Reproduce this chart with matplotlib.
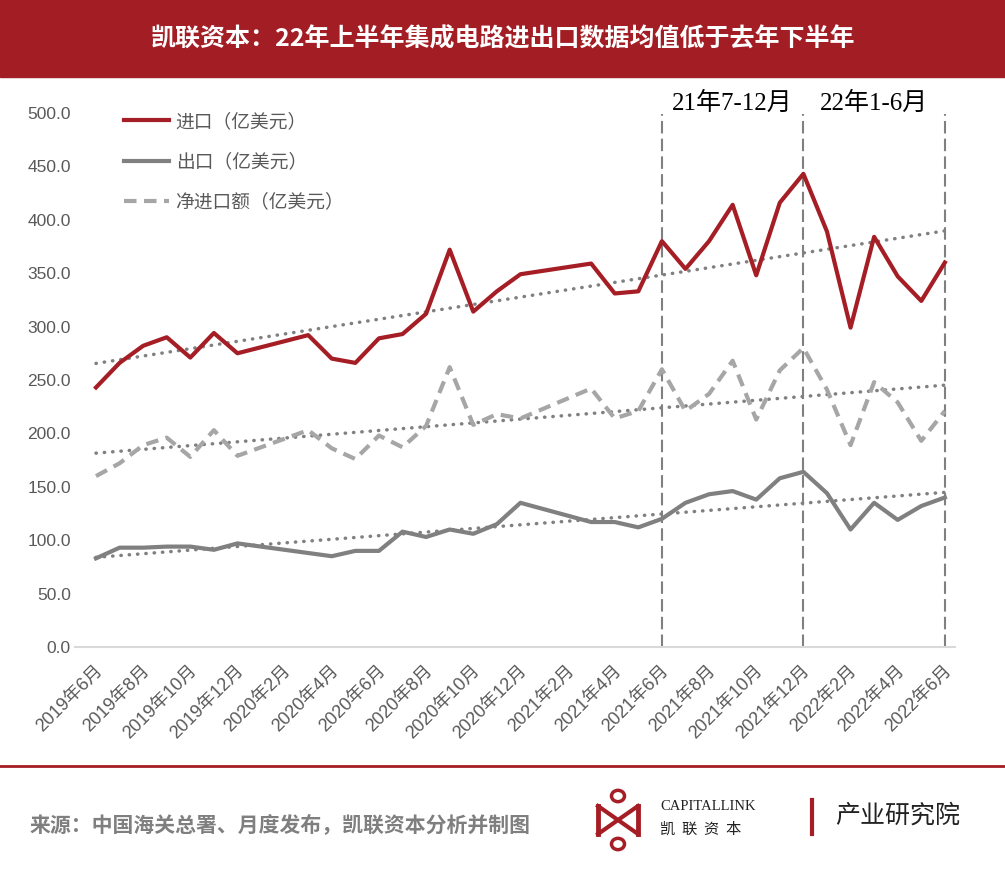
import numpy as np
import pandas as pd
import matplotlib
matplotlib.use("Agg")
import matplotlib.pyplot as plt
import matplotlib.transforms as mtrans
from matplotlib.patches import Rectangle, Circle
from matplotlib.lines import Line2D

plt.rcParams['font.family'] = ['Liberation Sans', 'Noto Sans CJK SC', 'DejaVu Sans']

# 月度数据（缺1-2月合并数据的月份不列出）
months = ['2019-06', '2019-07', '2019-08', '2019-09', '2019-10', '2019-11', '2019-12',
          '2020-03', '2020-04', '2020-05', '2020-06', '2020-07', '2020-08', '2020-09',
          '2020-10', '2020-11', '2020-12',
          '2021-03', '2021-04', '2021-05', '2021-06', '2021-07', '2021-08', '2021-09',
          '2021-10', '2021-11', '2021-12',
          '2022-01', '2022-02', '2022-03', '2022-04', '2022-05', '2022-06']
imports = [243, 266, 282, 290, 271, 294, 275,
           292, 270, 266, 289, 293, 312, 372, 314, 333, 349,
           359, 331, 333, 380, 354, 380, 414, 348, 416, 443,
           389, 299, 384, 347, 324, 360]
exports = [83, 93, 93, 94, 94, 91, 97,
           88, 85, 90, 90, 108, 103, 110, 106, 115, 135,
           117, 117, 112, 120, 135, 143, 146, 138, 158, 164,
           144, 110, 135, 119, 132, 140]
net_imports = [160, 172, 189, 196, 178, 203, 179,
               203, 186, 176, 198, 187, 207, 262, 208, 218, 214,
               242, 214, 221, 260, 221, 237, 268, 213, 259, 280,
               241, 189, 248, 229, 193, 221]

tick_labels = ['2019年6月', '2019年8月', '2019年10月', '2019年12月', '2020年2月', '2020年4月',
               '2020年6月', '2020年8月', '2020年10月', '2020年12月', '2021年2月', '2021年4月',
               '2021年6月', '2021年8月', '2021年10月', '2021年12月', '2022年2月', '2022年4月',
               '2022年6月']
period_bounds = ['2021-06', '2021-12', '2022-06']
period_labels = ['21年7-12月', '22年1-6月']

RED = '#A61E25'
GREY = '#808080'
LGREY = '#A6A6A6'
TXT = '#595959'

start = pd.Period(months[0], 'M')
x = np.array([(pd.Period(m, 'M') - start).n for m in months])
bounds = [(pd.Period(m, 'M') - start).n for m in period_bounds]

fig = plt.figure(figsize=(10.05, 8.75), dpi=100)
W, H = 1005, 875

# 顶部标题栏
fig.patches.append(Rectangle((0, 1 - 77 / H), 1, 77 / H, transform=fig.transFigure,
                             color='#A31D24', zorder=0))
fig.text(0.5, 1 - 39 / H, '凯联资本：22年上半年集成电路进出口数据均值低于去年下半年',
         color='white', fontsize=18, weight='bold', ha='center', va='center',
         family=['Noto Sans CJK SC'])

ax = fig.add_axes([75 / W, (H - 647) / H, 880 / W, 555.4 / H])
ax.plot(x, imports, color=RED, lw=3, label='进口（亿美元）', zorder=4)
ax.plot(x, exports, color=GREY, lw=3, label='出口（亿美元）', zorder=4)
ax.plot(x, net_imports, color=LGREY, lw=3, ls=(0, (3, 1.8)), label='净进口额（亿美元）', zorder=4)

# 线性趋势线
for s in [imports, exports, net_imports]:
    k, b = np.polyfit(x, s, 1)
    ax.plot([x[0], x[-1]], [k * x[0] + b, k * x[-1] + b], color=GREY, lw=2.5,
            ls=(0, (0.1, 2.3)), dash_capstyle='round', zorder=3)

ax.vlines(bounds, 0, 499, colors=GREY, lw=1.5, linestyles=(0, (6, 2.5)), zorder=2)
for i, lab in enumerate(period_labels):
    ax.text((bounds[i] + bounds[i + 1]) / 2, 0.979, lab, transform=ax.get_xaxis_transform(),
            ha='center', va='center', fontsize=18, color='black',
            family=['Liberation Serif', 'Noto Sans CJK SC'])

ax.set_xlim(-0.89, 36.43)
ax.set_ylim(0, 520)
ax.set_yticks(np.arange(0, 501, 50))
ax.set_yticklabels([f'{v:.1f}' for v in np.arange(0, 501, 50)])
ax.set_xticks(np.arange(0, 37, 2))
ax.set_xticklabels(tick_labels, rotation=45, ha='right', va='center', rotation_mode='anchor')
ax.tick_params(axis='y', length=0, labelsize=12.5, labelcolor=TXT, pad=3)
ax.tick_params(axis='x', length=0, labelsize=13, labelcolor=TXT, pad=15)
shift = mtrans.ScaledTranslation(4 / 100, 0, fig.dpi_scale_trans)
for lab in ax.get_xticklabels():
    lab.set_transform(lab.get_transform() + shift)
for sp in ['top', 'right', 'left']:
    ax.spines[sp].set_visible(False)
ax.spines['bottom'].set_color('#D9D9D9')
ax.spines['bottom'].set_linewidth(1.5)

leg = ax.legend(loc='upper left', bbox_to_anchor=(124 / W, 1 - 113 / H),
                bbox_transform=fig.transFigure, frameon=False, fontsize=13.5,
                handlelength=2.4, handletextpad=0.35, labelspacing=1.2,
                borderpad=0, borderaxespad=0)
for t in leg.get_texts():
    t.set_color(TXT)

# 底部
fig.lines.append(Line2D([0, 1], [1 - 766 / H] * 2, transform=fig.transFigure,
                        color='#A31D24', lw=2))
fig.text(30 / W, 1 - 825 / H, '来源：中国海关总署、月度发布，凯联资本分析并制图',
         color='#7F7F7F', fontsize=15, weight='bold', va='center',
         family=['Noto Sans CJK SC'])

# 标志
lx = [598, 638]
for xx in lx:
    fig.lines.append(Line2D([xx / W] * 2, [1 - 806 / H, 1 - 834 / H], transform=fig.transFigure,
                            color=RED, lw=3.5))
fig.lines.append(Line2D([lx[0] / W, lx[1] / W], [1 - 806 / H, 1 - 834 / H],
                        transform=fig.transFigure, color=RED, lw=3))
fig.lines.append(Line2D([lx[0] / W, lx[1] / W], [1 - 834 / H, 1 - 806 / H],
                        transform=fig.transFigure, color=RED, lw=3))
for cy in [796, 844]:
    fig.patches.append(Circle((618 / W, 1 - cy / H), 6.5 / W, transform=fig.transFigure,
                              fill=False, ec=RED, lw=2.5))
fig.text(660 / W, 1 - 806 / H, 'CAPITALLINK', fontsize=10.5, color='#222222',
         va='center', family=['Liberation Serif'])
fig.text(660 / W, 1 - 829 / H, '凯  联  资  本', fontsize=11, color='#222222',
         va='center', family=['Noto Sans CJK SC'])
fig.lines.append(Line2D([812 / W] * 2, [1 - 800 / H, 1 - 834 / H], transform=fig.transFigure,
                        color=RED, lw=3))
fig.text(835 / W, 1 - 816 / H, '产业研究院', fontsize=18, color='#222222',
         va='center', family=['Noto Sans CJK SC'])

fig.savefig('out.png', dpi=100)
